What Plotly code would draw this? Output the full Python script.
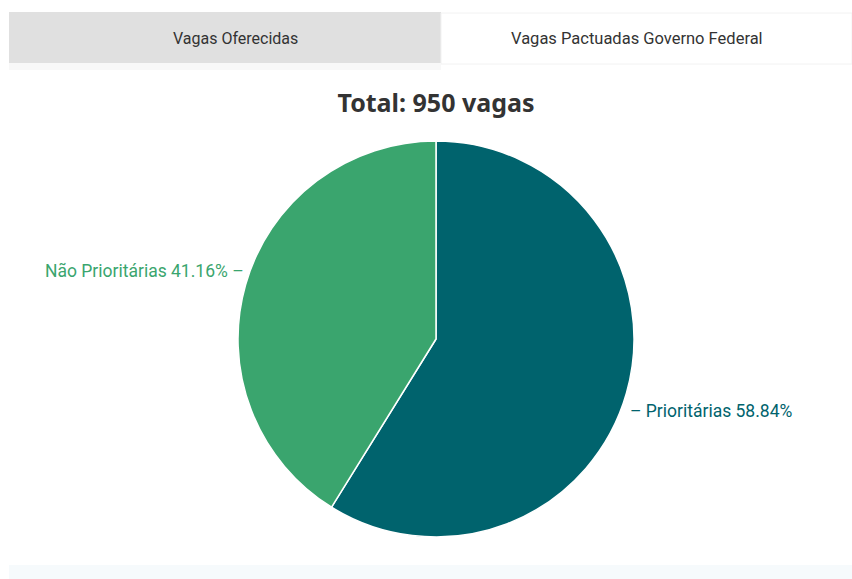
import math
import plotly.graph_objects as go

# Vagas pactuadas pelo Governo Federal
categorias = ["Prioritárias", "Não Prioritárias"]
vagas = [559, 391]
total_vagas = 950
cores = ["#00636d", "#3aa56e"]
abas = ["Vagas Oferecidas", "Vagas Pactuadas Governo Federal"]

W, H = 852, 579
# área do gráfico de pizza, em pixels
dom_x = (20, W)
dom_y = (141, 537)

fig = go.Figure(
    go.Pie(
        labels=categorias,
        values=vagas,
        sort=False,
        direction="clockwise",
        rotation=0,
        automargin=False,
        marker=dict(colors=cores, line=dict(color="white", width=1.5)),
        textinfo="none",
        hoverinfo="label+percent+value",
        showlegend=False,
        domain=dict(x=[dom_x[0] / W, dom_x[1] / W],
                    y=[(H - dom_y[1]) / H, (H - dom_y[0]) / H]),
    )
)

# Rótulos externos com conector curto, no ângulo médio de cada fatia
cx = (dom_x[0] + dom_x[1]) / 2
cy = (dom_y[0] + dom_y[1]) / 2
raio = min(dom_x[1] - dom_x[0], dom_y[1] - dom_y[0]) / 2
soma = sum(vagas)
acum = 0
for nome, v, cor in zip(categorias, vagas, cores):
    pct = v / soma
    ang = 2 * math.pi * (acum / soma + pct / 2)
    acum += v
    px = cx + raio * math.sin(ang)
    py = cy - raio * math.cos(ang)
    direita = px > cx
    texto = (f"– {nome} {pct * 100:.2f}%" if direita
             else f"{nome} {pct * 100:.2f}% –")
    fig.add_annotation(
        text=texto, xref="paper", yref="paper",
        x=px / W, y=1 - py / H,
        xanchor="left" if direita else "right", yanchor="middle",
        xshift=2 if direita else 0,
        yshift=-18 if py > cy else 14,
        showarrow=False,
        font=dict(family="Roboto", size=17.5, color=cor),
    )

# Abas no topo
fig.add_shape(type="rect", xref="paper", yref="paper",
              x0=9 / W, x1=441 / W, y0=1 - 63 / H, y1=1 - 12 / H,
              fillcolor="#e0e0e0", line=dict(width=0), layer="below")
fig.add_shape(type="rect", xref="paper", yref="paper",
              x0=441 / W, x1=1, y0=1 - 64 / H, y1=1 - 13 / H,
              fillcolor="white", line=dict(color="#f2f2f2", width=1), layer="below")
fig.add_shape(type="rect", xref="paper", yref="paper",
              x0=9 / W, x1=441 / W, y0=1 - 70 / H, y1=1 - 63 / H,
              fillcolor="#f8f8f8", line=dict(width=0), layer="below")
fig.add_annotation(text=abas[0], xref="paper", yref="paper",
                   x=235 / W, y=1 - 38 / H, xanchor="center", yanchor="middle",
                   showarrow=False,
                   font=dict(family="Roboto", size=16, color="#333333"))
fig.add_annotation(text=abas[1], xref="paper", yref="paper",
                   x=637 / W, y=1 - 38 / H, xanchor="center", yanchor="middle",
                   showarrow=False,
                   font=dict(family="Roboto", size=16.5, color="#333333"))

# Faixa inferior
fig.add_shape(type="rect", xref="paper", yref="paper",
              x0=9 / W, x1=1, y0=0, y1=1 - 565 / H,
              fillcolor="#f6fafc", line=dict(width=0), layer="below")

fig.update_layout(
    width=W, height=H,
    margin=dict(l=0, r=0, t=0, b=0, autoexpand=False),
    paper_bgcolor="white",
    title=dict(text=f"<b>Total: {total_vagas} vagas</b>",
               x=436 / W, xanchor="center", y=1 - 103 / H, yanchor="middle",
               font=dict(family="Noto Sans", size=25, color="#333333")),
)

fig.write_html("out.html")
